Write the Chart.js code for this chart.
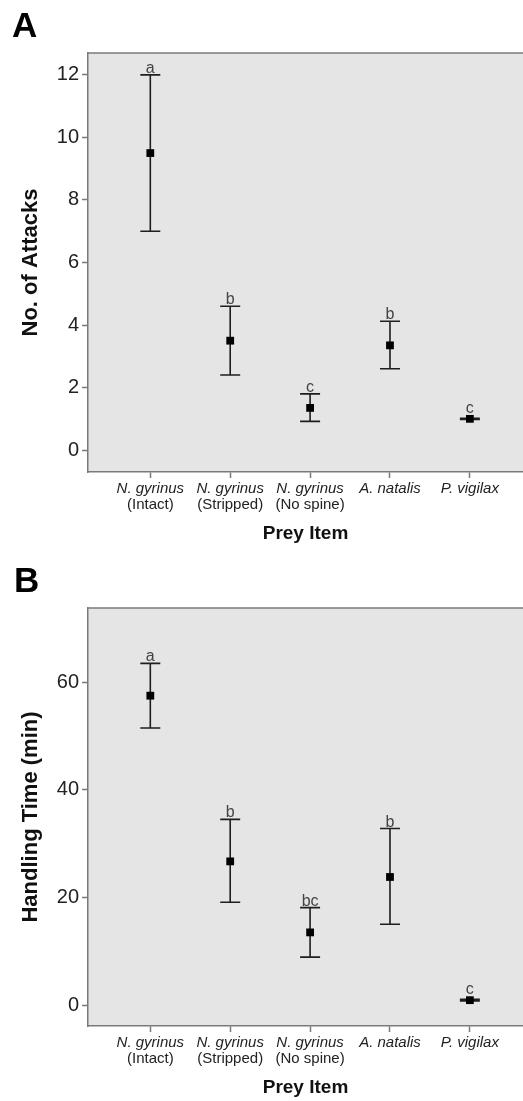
<!DOCTYPE html>
<html>
<head>
<meta charset="utf-8">
<script src="https://cdn.jsdelivr.net/npm/chart.js@4.4.1/dist/chart.umd.min.js"></script>
<style>
  html, body { margin: 0; padding: 0; background: #fff; overflow: hidden; }
  body { width: 523px; height: 1101px; position: relative; }
  canvas { position: absolute; left: 0; }
  #panelA { top: 0; }
  #panelB { top: 555px; }
</style>
</head>
<body>
<canvas id="panelA" width="523" height="555"></canvas>
<canvas id="panelB" width="523" height="546"></canvas>
<script>
// ---- data ----
const preyItems = ['N. gyrinus', 'N. gyrinus', 'N. gyrinus', 'A. natalis', 'P. vigilax']
const preyNotes = ['(Intact)', '(Stripped)', '(No spine)', '', '']

const attacksMean = [9.5, 3.5, 1.35, 3.35, 1.0]
const attacksLow = [7.0, 2.4, 0.92, 2.6, 0.98]
const attacksHigh = [12.0, 4.6, 1.8, 4.12, 1.02]
const attacksGroups = ['a', 'b', 'c', 'b', 'c']
const attacksTicks = [0, 2, 4, 6, 8, 10, 12]

const handlingMean = [57.5, 26.7, 13.5, 23.8, 0.9]
const handlingLow = [51.5, 19.1, 8.9, 15.0, 0.75]
const handlingHigh = [63.5, 34.5, 18.1, 32.8, 1.05]
const handlingGroups = ['a', 'b', 'bc', 'b', 'c']
const handlingTicks = [0, 20, 40, 60]

const FONT = '"Liberation Sans", Arial, Helvetica, sans-serif'
const AXIS_GREY = '#7a7a7a'
const INK = '#1e1e1e'

//=============== plot background + top frame line ===============
const frame = {
  id: 'frame',
  beforeDraw(chart) {
    const {ctx, chartArea: a} = chart
    ctx.save()
    ctx.fillStyle = '#e4e5e4'
    ctx.fillRect(a.left, a.top, a.right - a.left, a.bottom - a.top)
    ctx.strokeStyle = AXIS_GREY
    ctx.lineWidth = 1.5
    ctx.beginPath()
    ctx.moveTo(a.left, a.top)
    ctx.lineTo(a.right, a.top)
    ctx.stroke()
    ctx.restore()
  },
  afterDraw(chart) {
    const opts = chart.options.plugins.frame
    const ctx = chart.ctx
    ctx.save()
    ctx.fillStyle = '#000'
    ctx.font = 'bold 35px ' + FONT
    ctx.textBaseline = 'alphabetic'
    ctx.fillText(opts.label, opts.lx, 37)
    ctx.restore()
  }
}

//=============== error bars and group letters ===============
const errorBars = {
  id: 'errorBars',
  beforeDatasetsDraw(chart) {
    const o = chart.options.plugins.errorBars
    const {ctx, scales: {x, y}} = chart
    ctx.save()
    ctx.strokeStyle = INK
    ctx.lineWidth = 1.6
    o.low.forEach((lo, i) => {
      const px = x.getPixelForValue(i)
      const yl = y.getPixelForValue(lo)
      const yh = y.getPixelForValue(o.high[i])
      ctx.beginPath()
      ctx.moveTo(px, yl); ctx.lineTo(px, yh)
      ctx.moveTo(px - 10, yl); ctx.lineTo(px + 10, yl)
      ctx.moveTo(px - 10, yh); ctx.lineTo(px + 10, yh)
      ctx.stroke()
    })
    ctx.fillStyle = '#444'
    ctx.font = '16px ' + FONT
    ctx.textAlign = 'center'
    ctx.textBaseline = 'alphabetic'
    o.groups.forEach((g, i) => {
      const px = x.getPixelForValue(i)
      const yh = y.getPixelForValue(o.high[i])
      const ym = y.getPixelForValue(o.mean[i]) - 4
      ctx.fillText(g, px, Math.min(yh, ym) - 2)
    })
    ctx.restore()
  }
}

const noSidePad = s => { s.paddingLeft = 0; s.paddingRight = 0 }

const makePanel = (id, p) => {
  const ctx = document.getElementById(id).getContext('2d')
  return new Chart(ctx, {
    type: 'scatter',
    data: {
      datasets: [{
        data: p.mean.map((v, i) => ({x: i, y: v})),
        pointStyle: 'rect',
        pointRadius: 5.5,
        pointBackgroundColor: '#000',
        pointBorderWidth: 0
      }]
    },
    options: {
      responsive: false,
      animation: false,
      events: [],
      layout: {autoPadding: false, padding: {top: 53, left: 0, right: 0, bottom: p.padBottom}},
      plugins: {
        legend: {display: false},
        tooltip: {enabled: false},
        frame: {label: p.label, lx: p.lx},
        errorBars: {low: p.low, high: p.high, mean: p.mean, groups: p.groups}
      },
      scales: {
        x: {
          type: 'linear', position: 'bottom', weight: 0,
          min: -0.78, max: 4.665,
          afterBuildTicks: s => { s.ticks = preyItems.map((_, i) => ({value: i})) },
          afterFit: s => { s.height = 24; noSidePad(s) },
          border: {display: true, color: AXIS_GREY, width: 1.5},
          grid: {display: true, drawOnChartArea: false, drawTicks: true, tickLength: 6, tickColor: AXIS_GREY, tickWidth: 1.5},
          ticks: {
            autoSkip: false, maxRotation: 0, padding: 2, color: '#222',
            font: {family: FONT, size: 15, style: 'italic', lineHeight: 1.2},
            callback: (v, i) => preyItems[i]
          }
        },
        x2: {
          type: 'linear', position: 'bottom', weight: 1,
          min: -0.78, max: 4.665,
          afterBuildTicks: s => { s.ticks = preyNotes.map((_, i) => ({value: i})) },
          afterFit: s => { s.height = 49; noSidePad(s) },
          border: {display: false},
          grid: {display: false, drawTicks: false},
          ticks: {
            autoSkip: false, maxRotation: 0, padding: 0, color: '#222',
            font: {family: FONT, size: 15, lineHeight: 1.2},
            callback: (v, i) => preyNotes[i]
          },
          title: {
            display: true, text: 'Prey Item', color: '#111',
            font: {family: FONT, size: 19, weight: 'bold', lineHeight: 1.2},
            padding: {top: 0, bottom: 0}
          }
        },
        y: {
          type: 'linear', position: 'left',
          min: p.yMin, max: p.yMax,
          afterBuildTicks: s => { s.ticks = p.ticks.map(v => ({value: v})) },
          afterFit: s => { s.width = 88 },
          border: {display: true, color: AXIS_GREY, width: 1.5},
          grid: {display: true, drawOnChartArea: false, drawTicks: true, tickLength: 6, tickColor: AXIS_GREY, tickWidth: 1.5},
          ticks: {
            padding: 3, color: '#222',
            font: {family: FONT, size: 20},
            callback: v => v
          },
          title: {
            display: true, text: p.yTitle, color: '#111',
            font: {family: FONT, size: 22, weight: 'bold', lineHeight: 1.2},
            padding: {top: 18, bottom: 0}
          }
        }
      }
    },
    plugins: [frame, errorBars]
  })
}

makePanel('panelA', {
  label: 'A', lx: 12, padBottom: 10,
  mean: attacksMean, low: attacksLow, high: attacksHigh, groups: attacksGroups,
  ticks: attacksTicks, yMin: -0.7, yMax: 12.7, yTitle: 'No. of Attacks'
})

makePanel('panelB', {
  label: 'B', lx: 14, padBottom: 2,
  mean: handlingMean, low: handlingLow, high: handlingHigh, groups: handlingGroups,
  ticks: handlingTicks, yMin: -3.9, yMax: 73.8, yTitle: 'Handling Time (min)'
})
</script>
</body>
</html>
